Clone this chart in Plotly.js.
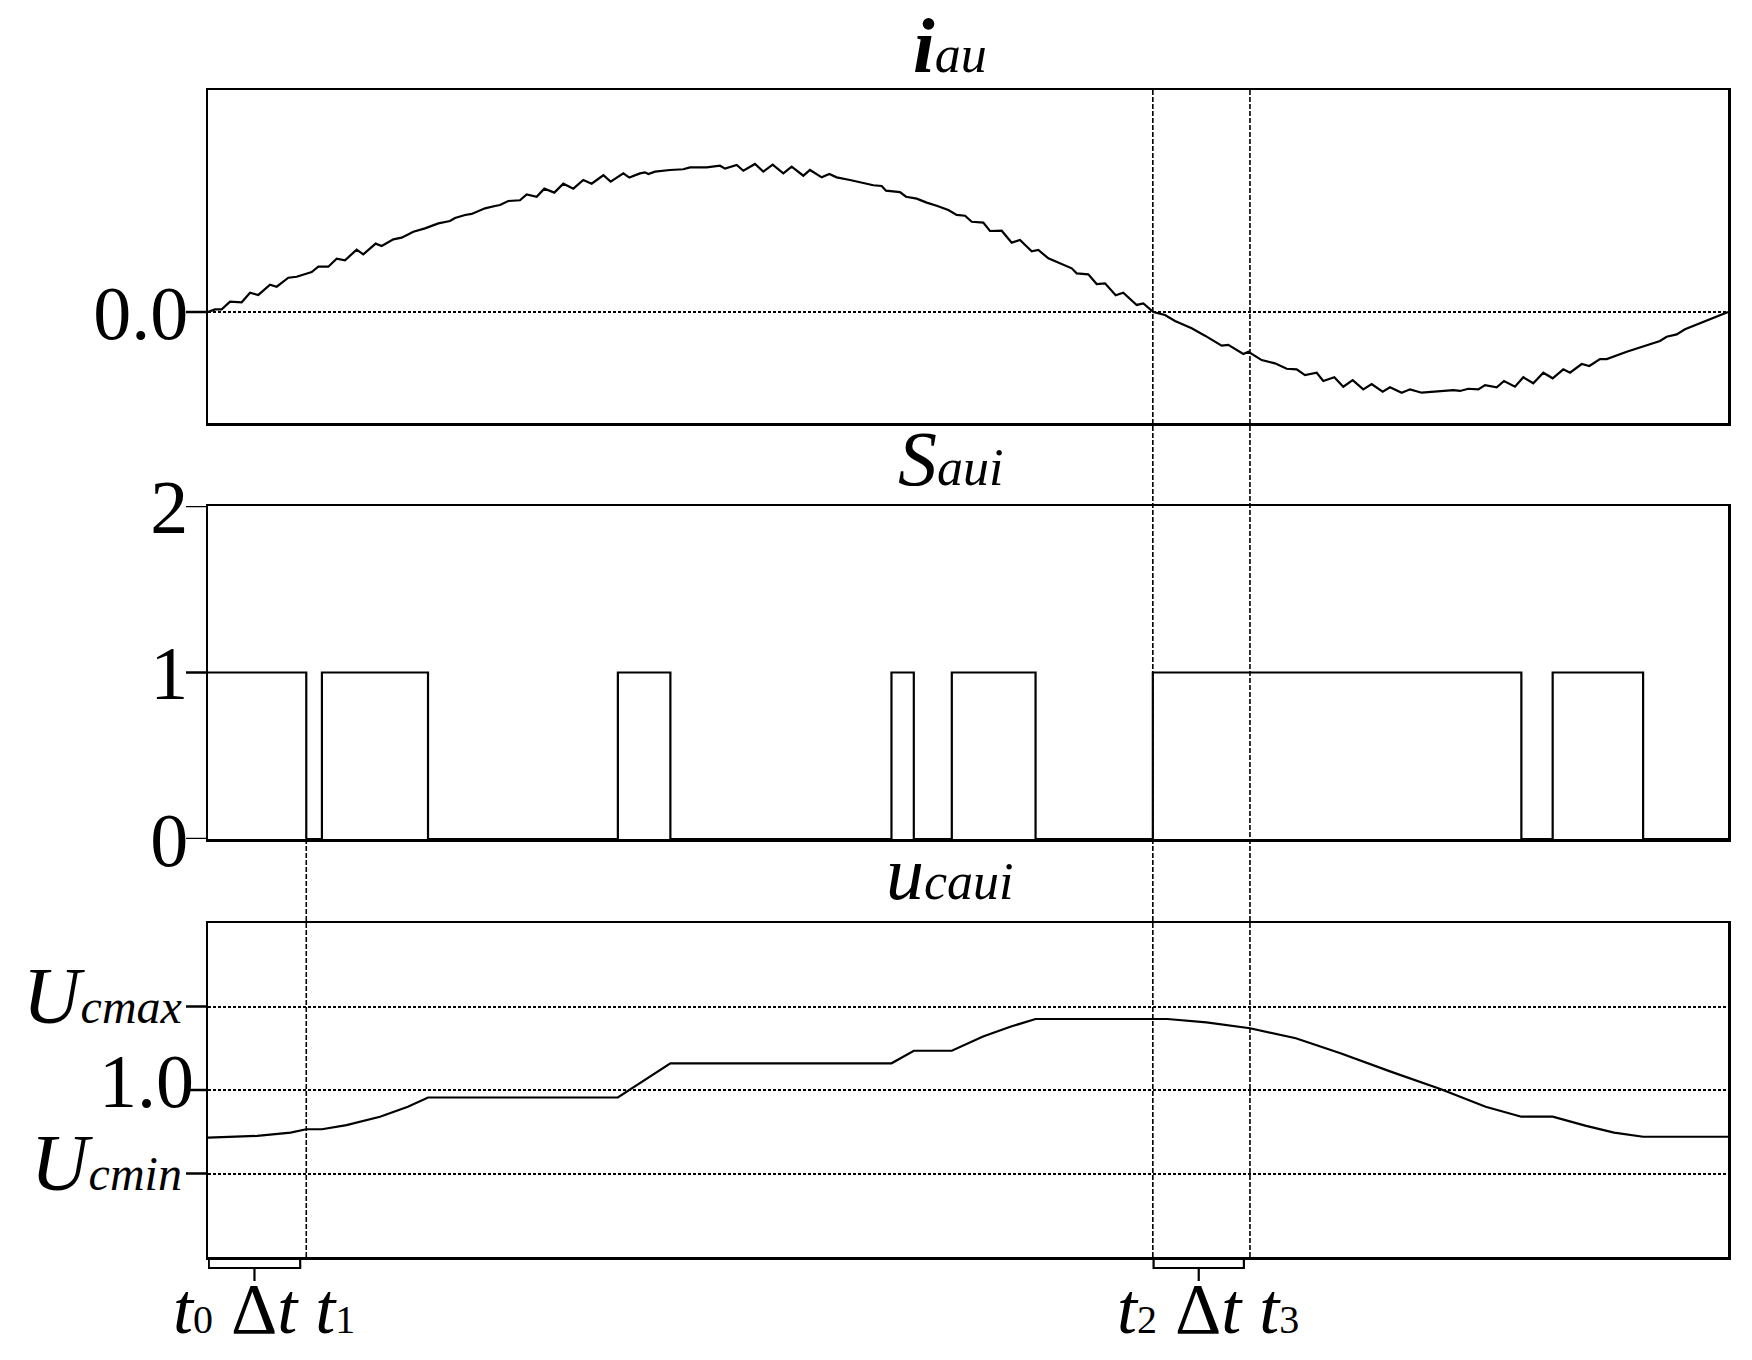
<!DOCTYPE html>
<html>
<head>
<meta charset="utf-8">
<script src="https://cdn.plot.ly/plotly-3.0.1.min.js"></script>
<style>html,body{margin:0;padding:0;background:#fff;}</style>
</head>
<body>
<div id="chart" style="width:1752px;height:1360px;"></div>
<script>
// ---------- data (time in ms over one fundamental period) ----------
const tCur = [0,0.092,0.18,0.29,0.443,0.553,0.662,0.816,0.904,1.057,1.167,1.364,1.452,1.583,1.693,1.803,1.956,2.043,2.206,2.285,2.439,2.548,2.702,2.855,3.031,3.184,3.25,3.382,3.469,3.645,3.776,3.842,3.951,4.105,4.193,4.325,4.425,4.557,4.675,4.807,4.938,5.048,
5.202,5.298,5.465,5.544,5.684,5.75,5.794,5.882,6.079,6.254,6.342,6.561,6.737,6.803,6.957,7.044,7.197,7.307,7.43,7.57,7.68,7.833,7.921,8.075,8.175,8.272,8.447,8.623,8.754,8.864,8.921,9.105,9.184,9.325,9.457,9.588,9.741,9.851,9.961,10.049,
10.201,10.289,10.443,10.575,10.684,10.838,10.925,11.057,11.365,11.43,11.583,11.693,11.803,11.943,12.043,12.22,12.307,12.439,12.592,12.724,12.943,13.118,13.338,13.425,13.623,13.689,13.864,14.039,14.193,14.325,14.434,14.588,14.675,14.82,14.938,15.062,15.201,
15.311,15.456,15.553,15.706,15.816,15.97,16.386,16.474,16.583,16.715,16.803,16.957,17.053,17.197,17.307,17.438,17.57,17.693,17.833,17.921,18.075,18.175,18.316,18.404,18.667,18.842,19.105,19.193,19.325,19.434,19.632,19.807,20.0];
const iCur = [0,0.018,0.018,0.070,0.066,0.131,0.116,0.186,0.172,0.233,0.240,0.272,0.308,0.308,0.363,0.352,0.424,0.392,0.465,0.449,0.494,0.506,0.546,0.569,0.603,0.619,0.639,0.660,0.667,0.705,0.721,0.728,0.755,0.760,0.800,0.784,0.839,0.812,0.873,0.839,0.898,0.873,
0.930,0.887,0.943,0.914,0.943,0.950,0.939,0.955,0.966,0.971,0.984,0.984,0.995,0.975,1.0,0.961,1.007,0.955,1.002,0.943,0.988,0.927,0.966,0.916,0.939,0.916,0.898,0.880,0.862,0.857,0.825,0.816,0.784,0.771,0.744,0.723,0.694,0.660,0.655,0.614,
0.608,0.551,0.553,0.472,0.490,0.413,0.422,0.365,0.297,0.263,0.256,0.190,0.195,0.114,0.131,0.048,0.059,0.0,-0.020,-0.061,-0.111,-0.161,-0.229,-0.224,-0.286,-0.270,-0.327,-0.349,-0.386,-0.390,-0.429,-0.413,-0.469,-0.444,-0.508,-0.463,-0.526,
-0.490,-0.542,-0.512,-0.549,-0.526,-0.549,-0.531,-0.537,-0.522,-0.526,-0.497,-0.512,-0.469,-0.508,-0.444,-0.485,-0.413,-0.451,-0.390,-0.413,-0.354,-0.367,-0.320,-0.320,-0.270,-0.240,-0.197,-0.168,-0.152,-0.118,-0.077,-0.043,0.0];

const tSw = [0,1.293,1.499,2.895,5.393,6.084,8.993,9.287,9.787,10.889,12.432,17.281,17.693,18.883,20];
const sSw = [1,0,1,0,1,0,1,0,1,0,1,0,1,0,0];

const tCap = [0,0.647,1.087,1.293,1.499,1.822,2.263,2.63,2.895,5.393,6.084,8.993,9.287,9.787,10.198,10.566,10.889,12.623,13.137,13.71,14.313,14.901,15.562,16.224,16.811,17.281,17.693,18.134,18.501,18.883,20];
const uCap = [0.943,0.945,0.949,0.953,0.953,0.958,0.968,0.980,0.991,0.991,1.032,1.032,1.047,1.047,1.064,1.076,1.085,1.085,1.081,1.074,1.062,1.044,1.022,1.001,0.980,0.968,0.968,0.957,0.949,0.944,0.944];

const markTimes = [0, 1.293, 12.432, 13.71];          // t0, t1, t2, t3
const markSubs  = ['0', '1', '2', '3'];

const iTickVals = [0];      const iTickText = ['0.0'];
const sTickVals = [0,1,2];  const sTickText = ['0','1','2'];
const uTickVals = [0.9,1.0,1.1];
const uTickText = ['<span style="font-size:80px"><i>U</i></span><i>cmin</i>&nbsp;', '<span style="font-size:76px">1.0</span>',
                   '<span style="font-size:80px"><i>U</i></span><i>cmax</i>&nbsp;'];
const titles = [
  '<span style="font-size:78px"><b><i>i</i></b></span><i>au</i>',
  '<span style="font-size:78px"><i>S</i></span><i>aui</i>',
  '<span style="font-size:76px"><i>u</i></span><i>caui</i>'
];

// ---------- layout helpers ----------
const W = 1752, H = 1360;
const px = v => v / W;
const py = v => 1 - v / H;
const FONT = 'Liberation Serif, Times New Roman, serif';

const xDom = [px(208), px(1728)];
const yDoms = [[py(423), py(90)], [py(839), py(506)], [py(1257), py(923)]];

function xAx(anchor) {
  return {domain: xDom, range: [0, 20], anchor: anchor, showline: true, mirror: true,
          linecolor: '#000', linewidth: 2.5, showgrid: false, zeroline: false,
          showticklabels: false, ticks: ''};
}
function yAx(dom, range, tv, tt, grid, anchor, fsize) {
  return {domain: dom, range: range, anchor: anchor, showline: true, mirror: true,
          linecolor: '#000', linewidth: 2.5, zeroline: false,
          tickmode: 'array', tickvals: tv, ticktext: tt,
          ticks: 'outside', ticklen: 2, tickwidth: 1, tickcolor: 'rgba(0,0,0,0)',
          tickfont: {family: FONT, size: fsize, color: '#000'},
          showgrid: grid, gridcolor: '#000', gridwidth: 2, griddash: '3px,2px'};
}

const lineStyle = {color: '#000', width: 2.2};
const traces = [
  {x: tCur, y: iCur, xaxis: 'x', yaxis: 'y', type: 'scatter', mode: 'lines', line: lineStyle, hoverinfo: 'skip'},
  {x: tSw, y: sSw, xaxis: 'x2', yaxis: 'y2', type: 'scatter', mode: 'lines', line: Object.assign({shape: 'hv'}, lineStyle), hoverinfo: 'skip'},
  {x: tCap, y: uCap, xaxis: 'x3', yaxis: 'y3', type: 'scatter', mode: 'lines', line: lineStyle, hoverinfo: 'skip'}
];

// vertical dashed marker lines
const dashLine = {color: '#000', width: 1.6, dash: '5px,2px'};
const shapes = [
  {type: 'line', xref: 'x3', yref: 'paper', x0: markTimes[1], x1: markTimes[1], y0: py(1257), y1: py(839), line: dashLine},
  {type: 'line', xref: 'x3', yref: 'paper', x0: markTimes[2], x1: markTimes[2], y0: py(1257), y1: py(90), line: dashLine},
  {type: 'line', xref: 'x3', yref: 'paper', x0: markTimes[3], x1: markTimes[3], y0: py(1257), y1: py(90), line: dashLine}
];
// visible y tick marks (drawn as shapes so labels can sit close to them)
[['y', iTickVals], ['y2', sTickVals], ['y3', uTickVals]].forEach(([ref, vals]) => {
  vals.forEach(v => shapes.push({type: 'line', xref: 'paper', yref: ref, x0: px(186), x1: px(208),
    y0: v, y1: v, line: {color: '#000', width: 2.5}}));
});
// brackets under the bottom panel (Δt intervals)
const brackets = [[markTimes[0], markTimes[1]], [markTimes[2], markTimes[3]]];
const yA = py(1257), yB = py(1268), yC = py(1281);
brackets.forEach(([a, b]) => {
  const a2 = a + 0.01, b2 = b - 0.08, m = (a2 + b2) / 2;
  shapes.push({type: 'path', xref: 'x3', yref: 'paper',
    path: `M ${a2},${yA} L ${a2},${yB} L ${b2},${yB} L ${b2},${yA} M ${m},${yB} L ${m},${yC}`,
    line: {color: '#000', width: 2.2}});
});

const annotations = [];
const titleBottoms = [91, 504, 917];
titles.forEach((t, k) => {
  annotations.push({text: t, xref: 'paper', yref: 'paper', x: px(950), y: py(titleBottoms[k]),
    xanchor: 'center', yanchor: 'bottom', showarrow: false,
    font: {family: FONT, size: 52, color: '#000'}});
});
const sub = s => '<span style="font-size:40px">' + s + '</span>';
brackets.forEach(([a, b], k) => {
  const m = (a + b - 0.07) / 2;
  const txt = '<i>t</i>' + sub(markSubs[2*k]) + ' Δ<i>t</i> <i>t</i>' + sub(markSubs[2*k+1]);
  annotations.push({text: txt, xref: 'x3', yref: 'paper', x: m + 0.12, y: py(1351),
    xanchor: 'center', yanchor: 'bottom', showarrow: false,
    font: {family: FONT, size: 72, color: '#000'}});
});

const layout = {
  width: W, height: H, margin: {l: 0, r: 0, t: 0, b: 0},
  paper_bgcolor: '#fff', plot_bgcolor: '#fff', showlegend: false,
  font: {family: FONT, color: '#000'},
  xaxis: xAx('y'), xaxis2: xAx('y2'), xaxis3: xAx('y3'),
  yaxis: yAx(yDoms[0], [-0.755, 1.51], iTickVals, iTickText, true, 'x', 76),
  yaxis2: yAx(yDoms[1], [0, 2], sTickVals, sTickText, false, 'x2', 76),
  yaxis3: yAx(yDoms[2], [0.8, 1.2], uTickVals, uTickText, true, 'x3', 48),
  shapes: shapes, annotations: annotations
};

Plotly.newPlot('chart', traces, layout, {displayModeBar: false, staticPlot: true});
</script>
</body>
</html>
